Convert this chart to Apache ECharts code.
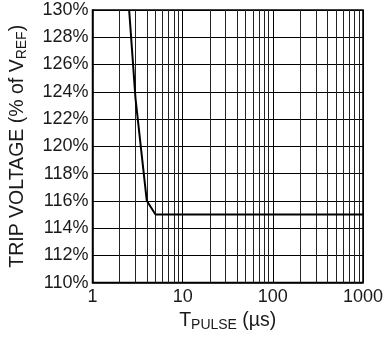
<!DOCTYPE html>
<html>
<head>
<meta charset="utf-8">
<script src="https://cdn.jsdelivr.net/npm/echarts@6/dist/echarts.min.js"></script>
<style>
  html, body { margin: 0; padding: 0; background: #fff; }
  #chart { width: 386px; height: 337px; }
</style>
</head>
<body>
<div id="chart"></div>
<script>
// Trip voltage vs. pulse width
const pulseWidthUs = [2.55, 3, 4, 5, 1000];
const tripVoltagePct = [130, 123.5, 116, 115, 115];

// Log-scale minor gridlines between decades
const minorGridX = [2, 3, 4, 5, 6, 7, 8, 9, 20, 30, 40, 50, 60, 70, 80, 90, 200, 300, 400, 500, 600, 700, 800, 900];

const yMin = 110, yMax = 130, yStep = 2;
const xMin = 1, xMax = 1000;

const FONT = '"Liberation Sans", Arial, Helvetica, sans-serif';
const INK = '#1a1a1a';

const chart = echarts.init(document.getElementById('chart'), null, { renderer: 'canvas' });

const nameRich = {
  m: { fontFamily: FONT, fontSize: 19.5, color: INK },
  s: { fontFamily: FONT, fontSize: 14, color: INK, verticalAlign: 'bottom', padding: [9, 0, 0, 0] }
};

chart.setOption({
  animation: false,
  backgroundColor: '#fff',
  grid: {
    left: 90, top: 10, right: 19, bottom: 50,
    show: true, borderColor: '#000', borderWidth: 1.5,
    containLabel: false
  },
  xAxis: {
    type: 'log',
    logBase: 10,
    min: xMin,
    max: xMax,
    name: '{m|T}{s|PULSE}{m| (µs)}',
    nameLocation: 'middle',
    nameGap: 25,
    nameTextStyle: { rich: nameRich },
    axisLine: { show: true, lineStyle: { color: '#000', width: 1.5 } },
    axisTick: { show: false },
    axisLabel: {
      margin: 5,
      fontFamily: FONT, fontSize: 18, color: INK,
      formatter: v => String(Math.round(v))
    },
    splitLine: { show: true, lineStyle: { color: '#000', width: 1 } }
  },
  yAxis: {
    type: 'value',
    min: yMin,
    max: yMax,
    interval: yStep,
    name: '{m|TRIP VOLTAGE (% of V}{s|REF}{m|)}',
    nameLocation: 'middle',
    nameRotate: 90,
    nameGap: 63,
    nameTextStyle: { rich: nameRich },
    axisLine: { show: true, lineStyle: { color: '#000', width: 1.5 } },
    axisTick: { show: false },
    axisLabel: {
      margin: 4,
      fontFamily: FONT, fontSize: 18, color: INK,
      formatter: v => v + '%'
    },
    splitLine: { show: true, lineStyle: { color: '#000', width: 1 } }
  },
  series: [
    {
      type: 'line',
      data: pulseWidthUs.map((x, i) => [x, tripVoltagePct[i]]),
      symbol: 'none',
      clip: true,
      lineStyle: { color: '#000', width: 2 },
      z: 5,
      markLine: {
        silent: true,
        symbol: 'none',
        label: { show: false },
        lineStyle: { color: '#222', width: 1, type: 'solid' },
        data: minorGridX.map(v => ({ xAxis: v }))
      }
    }
  ]
});
</script>
</body>
</html>
